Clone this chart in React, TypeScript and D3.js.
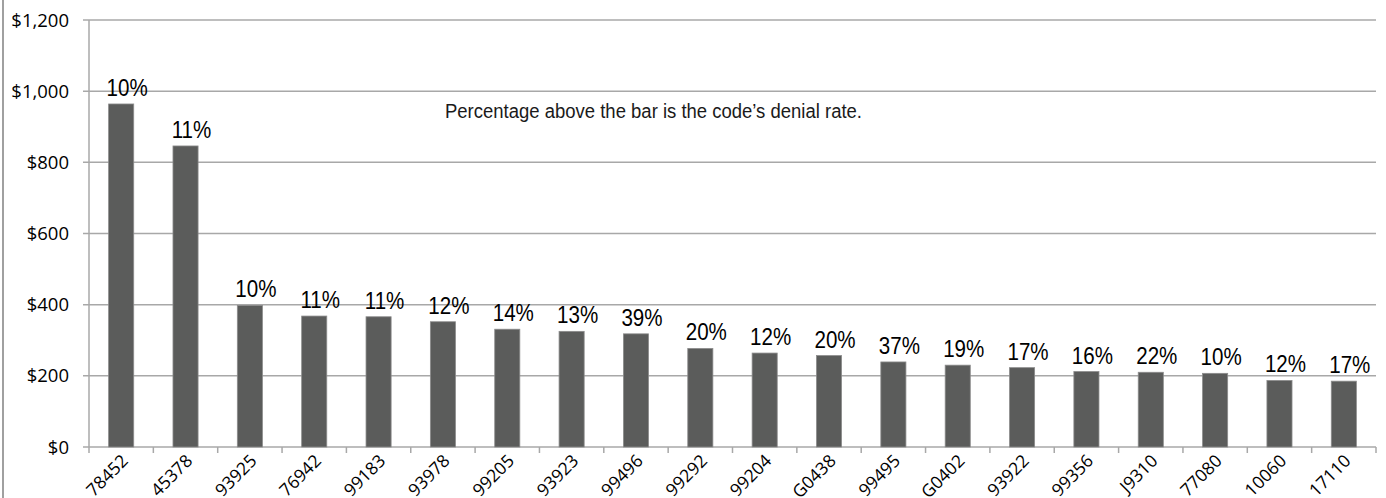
import React from "react";
import * as d3 from "d3";

const codes = ["78452","45378","93925","76942","99183","93978","99205","93923","99496","99292","99204","G0438","99495","G0402","93922","99356","J9310","77080","10060","17110"];
const amounts = [964,846,398,368,366,352,331,325,318,277,264,257,239,230,223,212,210,207,187,185];
const denialRates = ["10%","11%","10%","11%","11%","12%","14%","13%","39%","20%","12%","20%","37%","19%","17%","16%","22%","10%","12%","17%"];
const yTicks = [0,200,400,600,800,1000,1200];
const note = "Percentage above the bar is the code\u2019s denial rate.";

const W = 1386, H = 498;
const left = 89, right = 1376, top = 20, bottom = 447;

export default function App() {
  const x = d3.scaleBand<string>().domain(codes).range([left, right]).padding(0);
  const y = d3.scaleLinear().domain([0, 1200]).range([bottom, top]);
  const bw = x.bandwidth() * 0.39;
  const fmt = (v: number) => "$" + d3.format(",")(v);
  const sans = "'Liberation Sans', Arial, sans-serif";
  const tickFont = "'Open Sans', 'Noto Sans', sans-serif";
  const grid = "#a8a8a8";
  return (
    <svg width={W} height={H} style={{ position: "absolute", left: 0, top: 0, display: "block", background: "#fff" }}>
      <line x1={3} x2={3} y1={0} y2={H} stroke="#a0a0a0" strokeWidth={2} />
      {yTicks.map((t) => (
        <g key={t}>
          <line x1={left - 6} x2={right} y1={y(t)} y2={y(t)} stroke={grid} strokeWidth={1.5} />
          <text x={69} y={y(t)} dy="0.36em" textAnchor="end" fontFamily={tickFont} fontSize={18.5} fill="#000">{fmt(t)}</text>
        </g>
      ))}
      <line x1={left} x2={left} y1={top} y2={bottom + 6} stroke={grid} strokeWidth={1.5} />
      {codes.map((c) => {
        const x0 = x(c)!;
        return <line key={"t" + c} x1={x0 + x.bandwidth()} x2={x0 + x.bandwidth()} y1={bottom} y2={bottom + 6} stroke={grid} strokeWidth={1.5} />;
      })}
      {codes.map((c, i) => {
        const cx = x(c)! + x.bandwidth() / 2;
        return (
          <g key={c}>
            <rect x={cx - bw / 2} y={y(amounts[i])} width={bw} height={bottom - y(amounts[i])} fill="#5b5c5b" stroke="#8c8c8c" strokeWidth={0.8} />
            <text transform={`translate(${cx + 6},${y(amounts[i]) - 8}) scale(0.84,1)`} textAnchor="middle" fontFamily={sans} fontSize={24.5} fill="#000">{denialRates[i]}</text>
            <text transform={`translate(${cx + 8},${bottom + 15}) rotate(-45)`} textAnchor="end" fontFamily={tickFont} fontSize={17.5} fill="#000">{c}</text>
          </g>
        );
      })}
      <text x={445} y={117.5} textLength={417} lengthAdjust="spacingAndGlyphs" fontFamily={sans} fontSize={19.5} fill="#1a1a1a">{note}</text>
    </svg>
  );
}
